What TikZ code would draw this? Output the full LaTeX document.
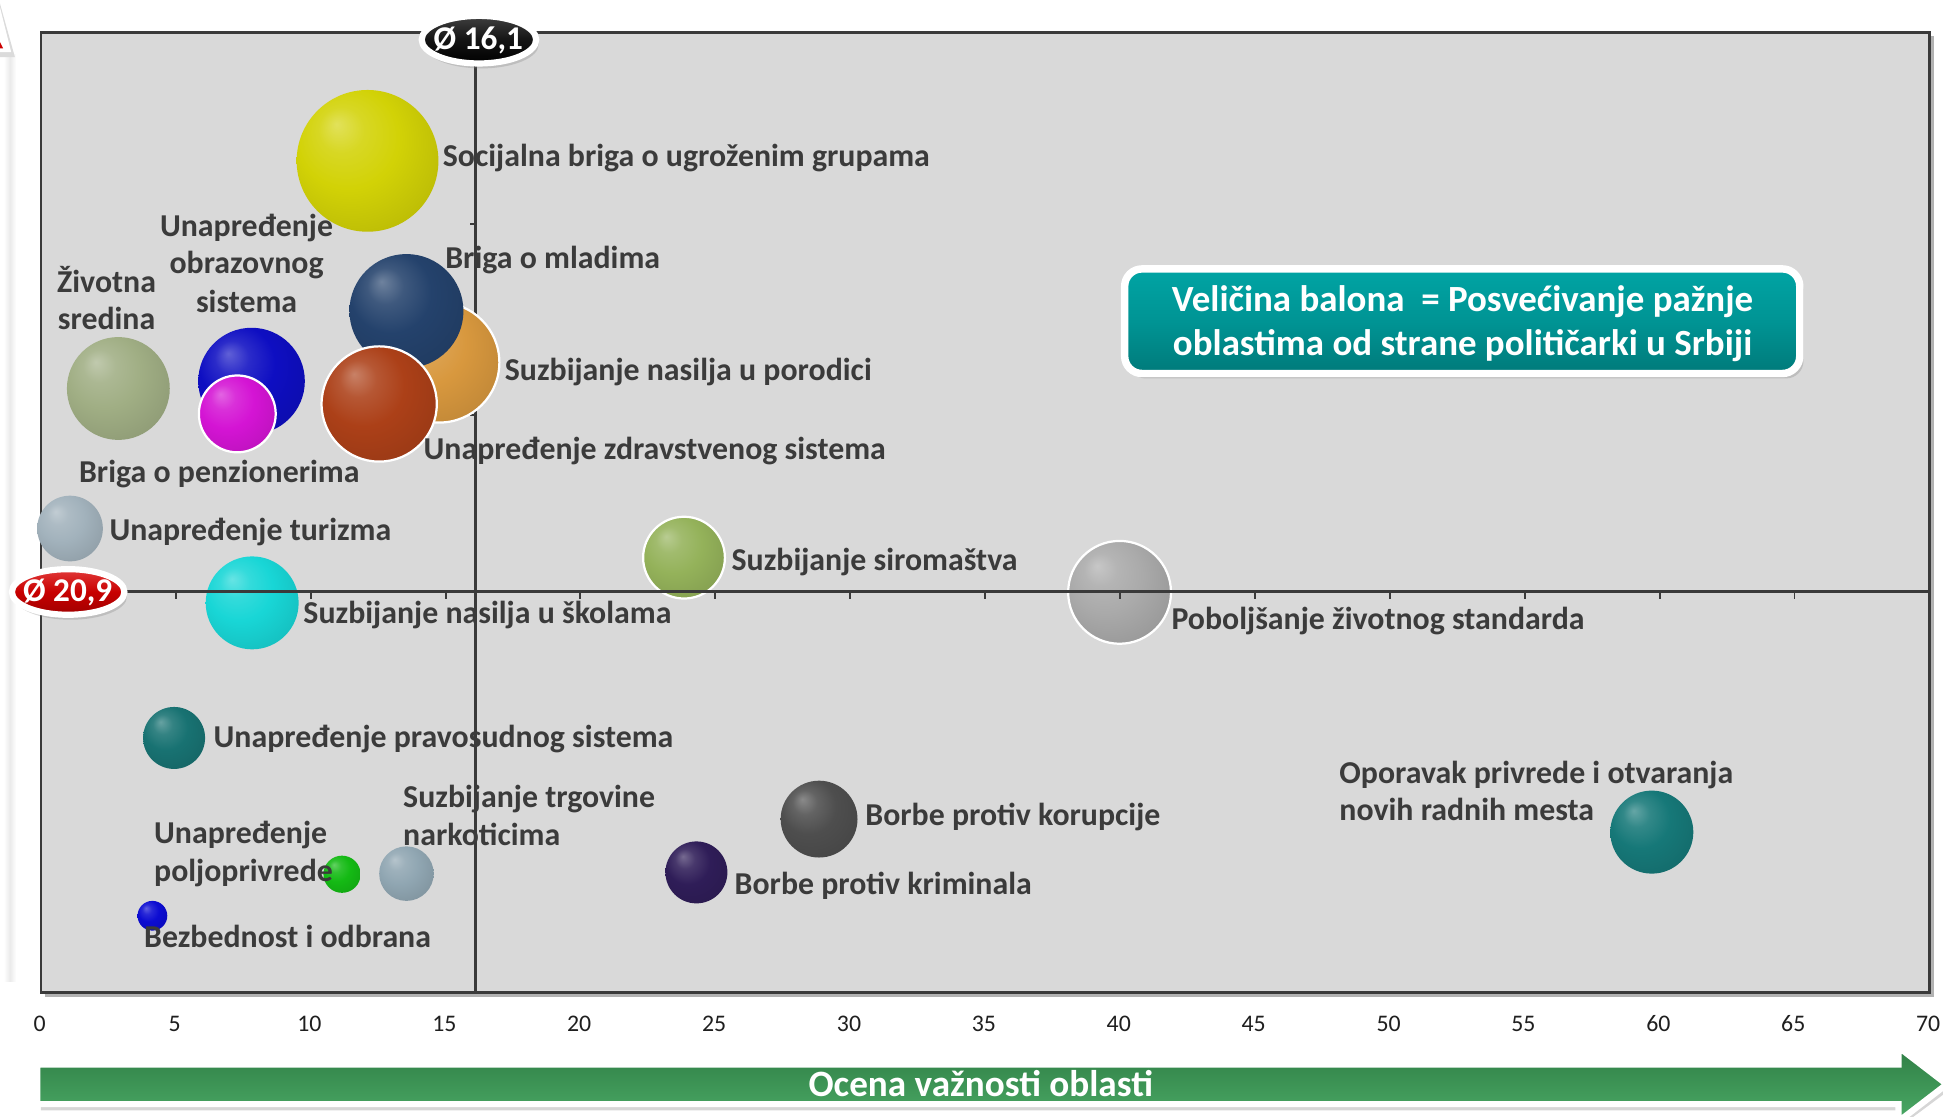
\documentclass[tikz,border=0pt]{standalone}
\usepackage{fontspec}
\setmainfont{Carlito}
\usetikzlibrary{shapes.geometric,shadows}
\definecolor{labc}{HTML}{3B3B3B}
\definecolor{framec}{HTML}{3A3A3A}
\definecolor{plotbg}{HTML}{D9D9D9}
\definecolor{cyel}{HTML}{D2D206}
\definecolor{cnavy}{HTML}{24426C}
\definecolor{corange}{HTML}{D8983E}
\definecolor{cred}{HTML}{AC4018}
\definecolor{cblue}{HTML}{0E0EC2}
\definecolor{cmag}{HTML}{D414D4}
\definecolor{csage}{HTML}{A0AE84}
\definecolor{ctur}{HTML}{A2B2BC}
\definecolor{ccyan}{HTML}{18D6D6}
\definecolor{cpra}{HTML}{187272}
\definecolor{cgrn}{HTML}{14BA14}
\definecolor{cnar}{HTML}{90A6B2}
\definecolor{cbez}{HTML}{0C0CD2}
\definecolor{csir}{HTML}{94B25A}
\definecolor{cpob}{HTML}{AAAAAA}
\definecolor{ckor}{HTML}{4E4E4E}
\definecolor{ckri}{HTML}{2F1D58}
\definecolor{copo}{HTML}{167878}
\definecolor{tealA}{HTML}{00A4A4}
\definecolor{tealM}{HTML}{009494}
\definecolor{tealB}{HTML}{007A7A}
\definecolor{garrA}{HTML}{2F7E45}
\definecolor{garrB}{HTML}{4BAA66}
\definecolor{redA}{HTML}{E23A3A}
\definecolor{redM}{HTML}{C80000}
\definecolor{redB}{HTML}{A00000}
\colorlet{bubc}{gray}
\pgfdeclareradialshading[bubc]{bubble}{\pgfqpoint{-11bp}{13bp}}{%
 color(0bp)=(bubc!66!white); color(8bp)=(bubc!88!white); color(18bp)=(bubc); color(32bp)=(bubc!90!black); color(44bp)=(bubc!81!black); color(50bp)=(bubc!72!black)}
\tikzset{
 bub/.style 2 args={circle, inner sep=0pt, minimum size=#2pt, /utils/exec={\colorlet{bubc}{#1}}, shading=bubble},
 wb/.style={draw=white, line width=0.9pt},
 lbl/.style={font=\fontsize{12.85}{15}\selectfont\bfseries, text=labc, inner sep=0pt, anchor=base west},
 clbl/.style={lbl, anchor=base},
 axnum/.style={font=\fontsize{9.6}{11}\selectfont, text=black!88, inner sep=0pt, anchor=base},
 wtxt/.style={font=\fontsize{#1}{#1}\selectfont\bfseries, text=white, inner sep=0pt, anchor=base},
 avgmark/.style={ellipse, inner sep=0pt, draw=white, line width=2.5pt, drop shadow={opacity=0.3, shadow xshift=1pt, shadow yshift=-2pt}},
 tickln/.style={framec, line width=0.8pt}
}
\begin{document}
\begin{tikzpicture}[x=0.5pt,y=-0.5pt]
\useasboundingbox (0,0) rectangle (1568,901.4);
\fill[white] (0,0) rectangle (1568,901.4);
% remnant of the vertical axis arrow at the left edge
\shade[left color=white, right color=black!8] (3,44) rectangle (8,792);
\shade[left color=black!8, right color=white] (8,44) rectangle (13,792);
\fill[black!14] (0,3) -- (12,46) -- (0,46) -- cycle;
\fill[white] (0,6) -- (9,42) -- (0,42) -- cycle;
\fill[red!80!black] (0,34) -- (2.5,39) -- (0,39) -- cycle;
% plot area
\fill[plotbg] (33,26) rectangle (1557,801);
\draw[black!30, line width=1pt] (36,803.5) -- (1559.5,803.5) -- (1559.5,29);
\draw[framec, line width=1.1pt] (33,26) rectangle (1557,801);
% vertical average line
\coordinate (vtop) at (384,26);
\coordinate (vbot) at (384,801);
\draw[framec, line width=1.2pt] (vtop) -- (vbot);
\draw[tickln] (384,181) -- ++(-5,0);
\draw[tickln] (384,335) -- ++(-5,0);
% bubbles
\node[bub={cyel}{57.2}] (bsoc) at (296.6,129.8) {};
\node[bub={csage}{41.5}] (bziv) at (95.5,313.5) {};
\node[bub={cblue}{43}] (bobr) at (203,307.5) {};
\node[bub={cmag}{31}, wb] (bpen) at (191.5,334) {};
\node[bub={corange}{48.5}, wb] (bpor) at (354.5,292.5) {};
\node[bub={cnavy}{46}] (bmla) at (328,251) {};
\node[bub={cred}{46.5}, wb] (bzdr) at (306,326) {};
\node[bub={ctur}{26.5}] (btur) at (56.5,426.5) {};
\node[bub={ccyan}{37.5}] (bsko) at (203.5,486.5) {};
\node[bub={csir}{33}, wb] (bsir) at (552,450) {};
\node[bub={cpob}{41.5}, wb] (bpob) at (903.5,478) {};
\node[bub={cpra}{25}] (bpra) at (140.5,595.5) {};
\node[bub={cgrn}{15}] (bpol) at (276,705.5) {};
\node[bub={cnar}{22}] (bnar) at (328,705) {};
\node[bub={cbez}{12}] (bbez) at (123,739) {};
\node[bub={ckor}{31}] (bkor) at (661,661) {};
\node[bub={ckri}{25}] (bkri) at (562,704) {};
\node[bub={copo}{33.5}] (bopo) at (1333,671.5) {};
% horizontal average line with ticks
\coordinate (hl) at (33,477.5);
\coordinate (hr) at (1557,477.5);
\draw[framec, line width=1.3pt] (hl) -- (hr);
\foreach \k in {1,...,13} \draw[tickln] ({33+\k*108.857},477.5) -- ++(0,6);
% labels
\node[lbl] (lsoc) at (357,134.5) {Socijalna briga o ugroženim grupama};
\node[lbl] (lmla) at (359,217) {Briga o mladima};
\node[lbl] (lpor) at (407,307) {Suzbijanje nasilja u porodici};
\node[lbl] (lzdr) at (341.5,370.5) {Unapređenje zdravstvenog sistema};
\node[clbl] (lobr1) at (199,190.5) {Unapređenje};
\node[clbl] (lobr2) at (199,221) {obrazovnog};
\node[clbl] (lobr3) at (199,252) {sistema};
\node[clbl] (lziv1) at (86,236) {Životna};
\node[clbl] (lziv2) at (86,266) {sredina};
\node[clbl] (lpen) at (177,389) {Briga o penzionerima};
\node[lbl] (ltur) at (88,436) {Unapređenje turizma};
\node[lbl] (lsko) at (244.5,503) {Suzbijanje nasilja u školama};
\node[lbl] (lsir) at (590,460.5) {Suzbijanje siromaštva};
\node[lbl] (lpob) at (945,508) {Poboljšanje životnog standarda};
\node[lbl] (lpra) at (172,603) {Unapređenje pravosudnog sistema};
\node[lbl] (lnar1) at (325,652) {Suzbijanje trgovine};
\node[lbl] (lnar2) at (325,682.5) {narkoticima};
\node[lbl] (lpol1) at (124,681) {Unapređenje};
\node[lbl] (lpol2) at (124,711) {poljoprivrede};
\node[lbl] (lbez) at (116,765) {Bezbednost i odbrana};
\node[lbl] (lkor) at (698,666) {Borbe protiv korupcije};
\node[lbl] (lkri) at (592.5,722) {Borbe protiv kriminala};
\node[lbl] (lopo1) at (1080.5,632) {Oporavak privrede i otvaranja};
\node[lbl] (lopo2) at (1080.5,662) {novih radnih mesta};
% average markers
\node[avgmark, minimum width=46.2pt, minimum height=19.2pt, top color=black!75, bottom color=black, middle color=black!92] (avgx) at (386.5,32) {};
\node[wtxt=13.4] (avgxt) at (386,40) {Ø 16,1};
\node[avgmark, minimum width=45.4pt, minimum height=18.4pt, top color=redA, bottom color=redB, middle color=redM] (avgy) at (55,477.7) {};
\node[wtxt=13.4] (avgyt) at (54.6,485) {Ø 20,9};
% legend
\node[draw=white, line width=3pt, rounded corners=7pt, minimum width=272.4pt, minimum height=42.2pt, top color=tealA, bottom color=tealB, middle color=tealM, drop shadow={opacity=0.3, shadow xshift=1.5pt, shadow yshift=-2pt}] (legend) at (1180,259.2) {};
\node[wtxt=14.9] (leg1) at (1180.3,251.5) {Veličina balona\ \ = Posvećivanje pažnje};
\node[wtxt=14.9] (leg2) at (1180.3,287) {oblastima od strane političarki u Srbiji};
% x axis numbers
\foreach \k in {0,...,14} {
  \pgfmathtruncatemacro{\v}{5*\k}
  \node[axnum] (ax\k) at ({32+\k*108.857},832.5) {\v};
}
% green arrow
\fill[black, opacity=0.16] (33,864) -- (1535,864) -- (1535,850) -- (1574,879) -- (1535,908) -- (1535,896) -- (33,896) -- cycle;
\path[draw=white, line width=2.5pt, line join=miter, top color=garrA, bottom color=garrB] (30,859) -- (1532,859) -- (1532,845) -- (1571,875) -- (1532,905) -- (1532,891) -- (30,891) -- cycle;
\node[wtxt=15] (arrtxt) at (791.5,884.5) {Ocena važnosti oblasti};
\end{tikzpicture}
\end{document}
